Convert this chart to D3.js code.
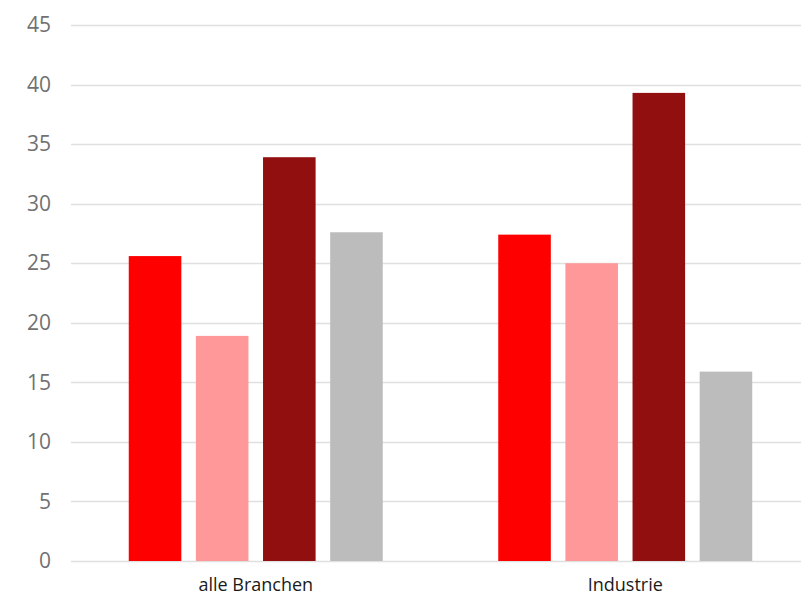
<!DOCTYPE html>
<html>
<head>
<meta charset="utf-8">
<script src="https://cdn.jsdelivr.net/npm/d3@7"></script>
<style>
  body { margin: 0; background: #fff; }
  .y-axis text { font-family: "Open Sans", sans-serif; font-size: 21px; fill: #717171; }
  .cat-label { font-family: "Open Sans", sans-serif; font-size: 18px; fill: #1a1a1a; }
</style>
</head>
<body>
<div id="chart"></div>
<script>
// data
var categories = ["alle Branchen", "Industrie"];
var series = ["s1", "s2", "s3", "s4"];
var seriesColors = ["#ff0000", "#ff9999", "#920f0f", "#bcbcbc"];
var values = [
  [25.6, 18.9, 33.9, 27.6],   // alle Branchen
  [27.4, 25.0, 39.3, 15.9]    // Industrie
];
var yTicks = [0, 5, 10, 15, 20, 25, 30, 35, 40, 45];

var svgWidth = 801;
var svgHeight = 596;

// plot area runs a little past the right edge, like the original
var plot = { left: 71, right: 810, top: 25, bottom: 561 };

let svg = d3.select("#chart")
  .append("svg")
  .attr("width", svgWidth)
  .attr("height", svgHeight);

let x0 = d3.scaleBand()
  .domain(categories)
  .range([plot.left, plot.right])
  .paddingInner(0.3126)
  .paddingOuter(0.1563);

let x1 = d3.scaleBand()
  .domain(series)
  .range([0, x0.bandwidth()])
  .paddingInner(0.217);

let y = d3.scaleLinear()
  .domain([0, 45])
  .range([plot.bottom, plot.top]);

// gridlines
svg.append("g")
  .selectAll("line")
  .data(yTicks)
  .enter()
  .append("line")
  .attr("x1", plot.left)
  .attr("x2", svgWidth)
  .attr("y1", d => Math.round(y(d)) + 0.5)
  .attr("y2", d => Math.round(y(d)) + 0.5)
  .attr("stroke", "#e0e0e0")
  .attr("stroke-width", 1.5);

// y axis labels
let yAxis = d3.axisLeft(y)
  .tickValues(yTicks)
  .tickSize(0)
  .tickPadding(20);

let yG = svg.append("g")
  .attr("class", "y-axis")
  .attr("transform", `translate(${plot.left}, 0)`)
  .call(yAxis);
yG.select(".domain").remove();

// bars
let groups = svg.selectAll(".grp")
  .data(values)
  .enter()
  .append("g")
  .attr("class", "grp")
  .attr("transform", (d, i) => `translate(${x0(categories[i])}, 0)`);

groups.selectAll("rect")
  .data(d => d.map((v, j) => ({ key: series[j], value: v, color: seriesColors[j] })))
  .enter()
  .append("rect")
  .attr("x", d => x1(d.key))
  .attr("y", d => y(d.value))
  .attr("width", x1.bandwidth())
  .attr("height", d => y(0) - y(d.value))
  .attr("fill", d => d.color);

// category labels
svg.append("g")
  .selectAll("text")
  .data(categories)
  .enter()
  .append("text")
  .attr("class", "cat-label")
  .attr("x", d => x0(d) + x0.bandwidth() / 2)
  .attr("y", 591)
  .attr("text-anchor", "middle")
  .text(d => d);
</script>
</body>
</html>
